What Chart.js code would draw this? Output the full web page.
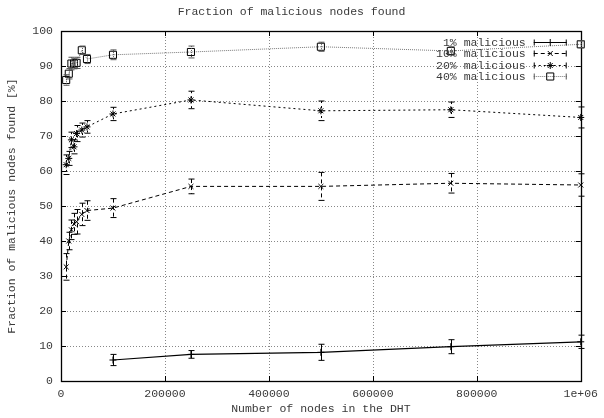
<!DOCTYPE html>
<html>
<head>
<meta charset="utf-8">
<script src="https://cdn.jsdelivr.net/npm/chart.js@4.4.1/dist/chart.umd.min.js"></script>
<style>
  html, body { margin: 0; padding: 0; background: #fff; }
  canvas { display: block; }
</style>
</head>
<body>
<canvas id="chart" width="604" height="418"></canvas>
<script>
// DHT sizes that were simulated
const nodeCounts = [10000, 15000, 20000, 25000, 30000, 40000, 50000, 100000, 250000, 500000, 750000, 1000000];

// Mean fraction of malicious nodes found [%] and its error, per malicious ratio
const found1  = [null, null, null, null, null, null, null, 6.0, 7.6, 8.2, 9.8, 11.2];
const err1    = [null, null, null, null, null, null, null, 1.6, 1.1, 2.3, 2.0, 1.9];
const found10 = [32.6, 40.0, 43.2, 44.9, 45.5, 47.6, 48.7, 49.4, 55.6, 55.6, 56.5, 56.0];
const err10   = [3.8, 2.5, 2.8, 3.0, 3.5, 3.2, 2.8, 2.7, 2.1, 4.0, 2.8, 3.2];
const found20 = [61.8, 63.6, 68.9, 66.9, 70.7, 71.7, 72.6, 76.3, 80.3, 77.2, 77.5, 75.3];
const err20   = [2.8, 2.0, 2.2, 2.0, 2.3, 2.0, 1.8, 1.9, 2.5, 2.8, 2.2, 3.0];
const found40 = [86.0, 87.8, 90.7, 90.7, 90.9, 94.5, 92.0, 93.2, 94.0, 95.5, 94.3, 96.2];
const err40   = [1.5, 1.5, 1.8, 1.5, 1.6, 1.2, 1.3, 1.4, 1.7, 1.3, 1.2, 1.0];

const seriesLabels = ['1% malicious', '10% malicious', '20% malicious', '40% malicious'];
const xTickLabels = { 1000000: '1e+06' };

const FONT = "'Liberation Mono', 'DejaVu Sans Mono', monospace";
const TEXT = '#3a3a3a';

const styles = [
  { values: found1,  errors: err1,  color: '#000', bar: '#000', dash: [],     width: 1.2, point: 'cross',    radius: 3.5 },
  { values: found10, errors: err10, color: '#000', bar: '#000', dash: [4, 3], width: 1,   point: 'crossRot', radius: 3.5 },
  { values: found20, errors: err20, color: '#000', bar: '#000', dash: [2, 3], width: 1,   point: 'star',     radius: 3.5 },
  { values: found40, errors: err40, color: '#777', bar: '#555', dash: [1, 1], width: 1,   point: 'rect',     radius: 5   }
];

function toPoints(values) {
  return nodeCounts.map((x, i) => ({ x: x, y: values[i] })).filter(p => p.y !== null);
}

const datasets = styles.map((s, k) => ({
  label: seriesLabels[k],
  data: toPoints(s.values),
  showLine: true,
  borderColor: s.color,
  borderWidth: s.width,
  borderDash: s.dash,
  pointStyle: s.point,
  pointRadius: s.radius,
  pointBorderColor: '#000',
  pointBorderWidth: 1,
  pointBackgroundColor: 'rgba(0,0,0,0)',
  clip: false
}));

function marker(ctx, style, x, y, r) {
  ctx.beginPath();
  if (style === 'cross' || style === 'star') {
    ctx.moveTo(x - r, y); ctx.lineTo(x + r, y);
    ctx.moveTo(x, y - r); ctx.lineTo(x, y + r);
  }
  if (style === 'crossRot' || style === 'star') {
    const d = r * Math.SQRT1_2;
    ctx.moveTo(x - d, y - d); ctx.lineTo(x + d, y + d);
    ctx.moveTo(x - d, y + d); ctx.lineTo(x + d, y - d);
  }
  if (style === 'rect') {
    const h = r * Math.SQRT1_2;
    ctx.rect(x - h, y - h, 2 * h, 2 * h);
  }
  ctx.stroke();
}

// Dotted grid, frame and inward tick marks on all four sides
const framePlugin = {
  id: 'frame',
  beforeDatasetsDraw(chart) {
    const { ctx, chartArea: a, scales: { x, y } } = chart;
    ctx.save();
    ctx.strokeStyle = '#888';
    ctx.lineWidth = 1;
    ctx.setLineDash([1, 2]);
    x.ticks.forEach(t => {
      const px = Math.round(x.getPixelForValue(t.value)) + 0.5;
      if (px <= a.left + 1 || px >= a.right - 1) return;
      ctx.beginPath(); ctx.moveTo(px, a.top); ctx.lineTo(px, a.bottom); ctx.stroke();
    });
    y.ticks.forEach(t => {
      const py = Math.round(y.getPixelForValue(t.value)) + 0.5;
      if (py <= a.top + 1 || py >= a.bottom - 1) return;
      ctx.beginPath(); ctx.moveTo(a.left, py); ctx.lineTo(a.right, py); ctx.stroke();
    });
    ctx.setLineDash([]);
    ctx.strokeStyle = '#000';
    const tk = 5;
    x.ticks.forEach(t => {
      const px = Math.round(x.getPixelForValue(t.value)) + 0.5;
      ctx.beginPath();
      ctx.moveTo(px, a.bottom); ctx.lineTo(px, a.bottom - tk);
      ctx.moveTo(px, a.top); ctx.lineTo(px, a.top + tk);
      ctx.stroke();
    });
    y.ticks.forEach(t => {
      const py = Math.round(y.getPixelForValue(t.value)) + 0.5;
      ctx.beginPath();
      ctx.moveTo(a.left, py); ctx.lineTo(a.left + tk, py);
      ctx.moveTo(a.right, py); ctx.lineTo(a.right - tk, py);
      ctx.stroke();
    });
    ctx.lineWidth = 1.3;
    ctx.strokeRect(Math.round(a.left) + 0.5, Math.round(a.top) + 0.5,
                   Math.round(a.right - a.left), Math.round(a.bottom - a.top));
    ctx.restore();
  }
};

// Error bars (dashed like their series) and the key in the upper right corner
const errorBarPlugin = {
  id: 'errorBars',
  afterDatasetsDraw(chart) {
    const { ctx, scales: { x, y } } = chart;
    ctx.save();
    styles.forEach(s => {
      ctx.strokeStyle = s.bar;
      ctx.lineWidth = 1;
      nodeCounts.forEach((n, i) => {
        if (s.values[i] === null) return;
        const px = Math.round(x.getPixelForValue(n)) + 0.5;
        const top = y.getPixelForValue(s.values[i] + s.errors[i]);
        const bot = y.getPixelForValue(s.values[i] - s.errors[i]);
        ctx.setLineDash(s.dash);
        ctx.beginPath(); ctx.moveTo(px, top); ctx.lineTo(px, bot); ctx.stroke();
        ctx.setLineDash([]);
        ctx.beginPath();
        ctx.moveTo(px - 3, top); ctx.lineTo(px + 3, top);
        ctx.moveTo(px - 3, bot); ctx.lineTo(px + 3, bot);
        ctx.stroke();
      });
    });

    // key
    const a = chart.chartArea;
    const textRight = a.right - 55, x0 = a.right - 47, x1 = a.right - 14;
    ctx.font = '11.5px ' + FONT;
    ctx.textAlign = 'right';
    ctx.textBaseline = 'middle';
    styles.forEach((s, k) => {
      const ky = Math.round(a.top + 10.7 + k * 11.5) + 0.5;
      ctx.fillStyle = TEXT;
      ctx.fillText(seriesLabels[k], textRight, ky);
      ctx.strokeStyle = s.color;
      ctx.lineWidth = s.width;
      ctx.setLineDash(s.dash);
      ctx.beginPath(); ctx.moveTo(x0, ky); ctx.lineTo(x1, ky); ctx.stroke();
      ctx.setLineDash([]);
      ctx.lineWidth = 1;
      ctx.strokeStyle = s.bar;
      ctx.beginPath();
      ctx.moveTo(x0 + 0.5, ky - 3); ctx.lineTo(x0 + 0.5, ky + 3);
      ctx.moveTo(x1 - 0.5, ky - 3); ctx.lineTo(x1 - 0.5, ky + 3);
      ctx.stroke();
      ctx.strokeStyle = '#000';
      marker(ctx, s.point, (x0 + x1) / 2, ky, s.radius);
    });
    ctx.restore();
  }
};

new Chart(document.getElementById('chart'), {
  type: 'scatter',
  data: { datasets: datasets },
  plugins: [framePlugin, errorBarPlugin],
  options: {
    responsive: false,
    animation: false,
    events: [],
    layout: { padding: { left: 0, right: 21, top: 0, bottom: 0 } },
    plugins: {
      legend: { display: false },
      tooltip: { enabled: false },
      title: {
        display: true,
        text: 'Fraction of malicious nodes found',
        color: TEXT,
        font: { family: FONT, size: 11.5, weight: 'normal' },
        padding: { top: 5, bottom: 12.2 }
      }
    },
    scales: {
      x: {
        type: 'linear',
        min: 0,
        max: 1000000,
        grid: { display: false, drawTicks: false },
        border: { display: false },
        afterFit(scale) { scale.height = 37; },
        ticks: {
          stepSize: 200000,
          padding: 6,
          color: TEXT,
          font: { family: FONT, size: 11.5 },
          maxRotation: 0,
          callback: v => xTickLabels[v] || String(v)
        },
        title: {
          display: true,
          text: 'Number of nodes in the DHT',
          color: TEXT,
          font: { family: FONT, size: 11.5 },
          padding: { top: 2, bottom: 2 }
        }
      },
      y: {
        min: 0,
        max: 100,
        grid: { display: false, drawTicks: false },
        border: { display: false },
        afterFit(scale) { scale.width = 61; },
        ticks: {
          stepSize: 10,
          padding: 8,
          color: TEXT,
          font: { family: FONT, size: 11.5 }
        },
        title: {
          display: true,
          text: 'Fraction of malicious nodes found [%]',
          color: TEXT,
          font: { family: FONT, size: 11.5 },
          padding: { top: 5, bottom: 5 }
        }
      }
    }
  }
});
</script>
</body>
</html>
